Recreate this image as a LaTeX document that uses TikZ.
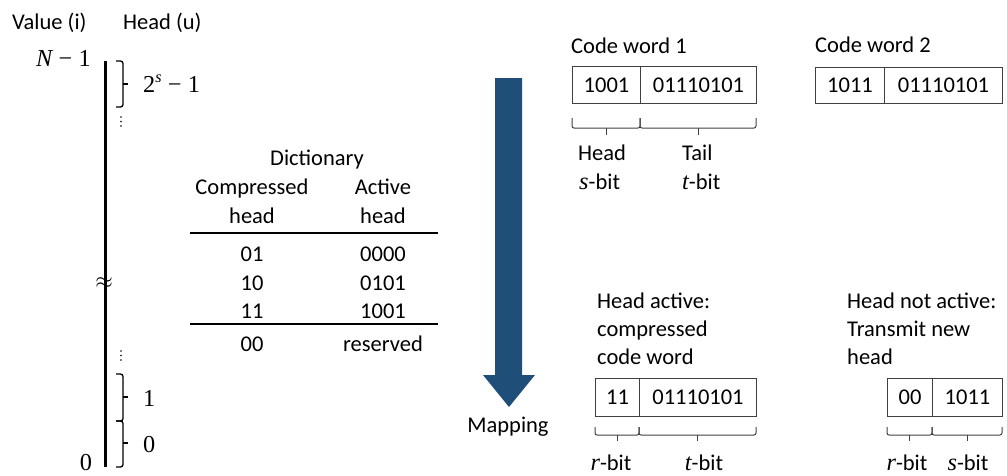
\RequirePackage{fix-cm}
\documentclass[tikz,border=0pt]{standalone}
\usepackage{fontspec}
\setmainfont{Carlito}
\newfontfamily\mth[Scale=1.08]{Liberation Serif}
\newcommand{\mi}[1]{{\mth\itshape #1}}
\newcommand{\mr}[1]{{\mth #1}}
\newcommand{\mminus}{\hspace{0.28em}{\mth −}\hspace{0.28em}}
\definecolor{arrowblue}{HTML}{1F4E79}
\definecolor{boxgray}{HTML}{404040}
\tikzset{
  txt/.style={inner sep=0pt, font=\fontsize{22.5}{29}\selectfont},
  cell/.style={draw=boxgray, line width=1pt, inner sep=0pt, anchor=north west,
    font=\fontsize{22.5}{29}\selectfont},
  brk/.style={draw=boxgray, line width=1pt, rounded corners=2pt},
  lbrk/.style={draw=black, line width=1.3pt, rounded corners=2.5pt},
  rule/.style={draw=black, line width=2.5pt},
}
\begin{document}
\begin{tikzpicture}[x=1pt,y=-1pt]
\useasboundingbox (0,0) rectangle (1007,475);

% headers
\node[txt, anchor=base west] (hval) at (12,29) {Value (i)};
\node[txt, anchor=base west] (hhead) at (123,29) {Head (u)};

% axis
\node[txt, anchor=base east] (ntop) at (91,66) {\mi{N}\mminus\mr{1}};
\node[txt, anchor=base] (nbot) at (86,470) {\mr{0}};
\coordinate (axtop) at (105,61);
\coordinate (axbot) at (105,467);
\draw[line width=3pt] (axtop) -- (axbot);
\node[txt] (approx) at (104,283) {$\approx$};

% braces along axis
\draw[lbrk] (116,61) -- (123,61) -- (123,107) -- (116,107);
\draw[line width=1.5pt] (123,84) -- (128,84);
\node[txt, anchor=base west] (lab2s) at (143,92) {\mr{2}\raisebox{0.42em}{\fontsize{15}{15}\selectfont\mi{s}}\mminus\mr{1}};

\draw[lbrk] (116,374) -- (123,374) -- (123,421) -- (116,421);
\draw[line width=1.5pt] (123,397) -- (128,397);
\node[txt, anchor=base west] (lab1) at (143,406) {\mr{1}};

\draw[lbrk] (116,421) -- (123,421) -- (123,467) -- (116,467);
\draw[line width=1.5pt] (123,443) -- (128,443);
\node[txt, anchor=base west] (lab0) at (143,452) {\mr{0}};

% vertical dots
\foreach \yy in {117,121.5,126} \fill (121,\yy) circle (0.9);
\foreach \yy in {351,355.5,360} \fill (121,\yy) circle (0.9);

% dictionary
\node[txt, anchor=base] (dict) at (317,165) {Dictionary};
\node[txt, anchor=base] (ch1) at (252,194) {Compressed};
\node[txt, anchor=base] (ch2) at (252,223) {head};
\node[txt, anchor=base] (ah1) at (383,194) {Active};
\node[txt, anchor=base] (ah2) at (383,223) {head};
\draw[rule] (190,233) -- (438,233);
\node[txt, anchor=base] (r1a) at (252,261) {01};
\node[txt, anchor=base] (r1b) at (383,261) {0000};
\node[txt, anchor=base] (r2a) at (252,290) {10};
\node[txt, anchor=base] (r2b) at (383,290) {0101};
\node[txt, anchor=base] (r3a) at (252,318) {11};
\node[txt, anchor=base] (r3b) at (383,318) {1001};
\draw[rule] (190,324) -- (438,324);
\node[txt, anchor=base] (r4a) at (252,351) {00};
\node[txt, anchor=base] (r4b) at (383,351) {reserved};

% mapping arrow
\fill[arrowblue] (495,78) -- (522,78) -- (522,375) -- (535,375) -- (509,407)
  -- (483,375) -- (495,375) -- cycle;
\node[txt, anchor=base] (mapping) at (508,432) {Mapping};

% code word 1
\node[txt, anchor=base west] (cw1) at (571,53) {Code word 1};
\node[cell, minimum width=68pt, minimum height=37pt] (c1h) at (572,66) {1001};
\node[cell, minimum width=116pt, minimum height=37pt] (c1t) at (640,66) {01110101};
\draw[brk] (572,118) -- (572,128) -- (640,128) -- (640,118);
\draw[brk] (640,118) -- (640,128) -- (756,128) -- (756,118);
\draw[draw=boxgray, line width=1pt] (606,128) -- (606,135);
\draw[draw=boxgray, line width=1pt] (698,128) -- (698,135);
\node[txt, anchor=base west] (lh1) at (578,160) {Head};
\node[txt, anchor=base west] (lh2) at (579,189) {\mi{s}-bit};
\node[txt, anchor=base west] (lt1) at (682,160) {Tail};
\node[txt, anchor=base west] (lt2) at (682,189) {\mi{t}-bit};

% code word 2
\node[txt, anchor=base west] (cw2) at (815,52) {Code word 2};
\node[cell, minimum width=69pt, minimum height=36pt] (c2h) at (815,67) {1011};
\node[cell, minimum width=118pt, minimum height=36pt] (c2t) at (884,67) {01110101};

% head active
\node[txt, anchor=base west] (ha1) at (597,308) {Head active:};
\node[txt, anchor=base west] (ha2) at (597,336) {compressed};
\node[txt, anchor=base west] (ha3) at (597,364) {code word};
\node[cell, minimum width=44pt, minimum height=38pt] (c3h) at (595,378) {11};
\node[cell, minimum width=117pt, minimum height=38pt] (c3t) at (639,378) {01110101};
\draw[brk] (595,427) -- (595,435) -- (639,435) -- (639,427);
\draw[brk] (639,427) -- (639,435) -- (756,435) -- (756,427);
\draw[draw=boxgray, line width=1pt] (617,435) -- (617,441);
\draw[draw=boxgray, line width=1pt] (697.5,435) -- (697.5,441);
\node[txt, anchor=base] (lr3) at (611,470) {\mi{r}-bit};
\node[txt, anchor=base] (lt3) at (704,470) {\mi{t}-bit};

% head not active
\node[txt, anchor=base west] (hn1) at (847,308) {Head not active:};
\node[txt, anchor=base west] (hn2) at (847,336) {Transmit new};
\node[txt, anchor=base west] (hn3) at (847,364) {head};
\node[cell, minimum width=45pt, minimum height=38pt] (c4h) at (887,378) {00};
\node[cell, minimum width=70pt, minimum height=38pt] (c4t) at (932,378) {1011};
\draw[brk] (887,427) -- (887,435) -- (932,435) -- (932,427);
\draw[brk] (932,427) -- (932,435) -- (1002,435) -- (1002,427);
\draw[draw=boxgray, line width=1pt] (909.5,435) -- (909.5,441);
\draw[draw=boxgray, line width=1pt] (967,435) -- (967,441);
\node[txt, anchor=base] (lr4) at (907,470) {\mi{r}-bit};
\node[txt, anchor=base] (ls4) at (968,470) {\mi{s}-bit};
\end{tikzpicture}
\end{document}
